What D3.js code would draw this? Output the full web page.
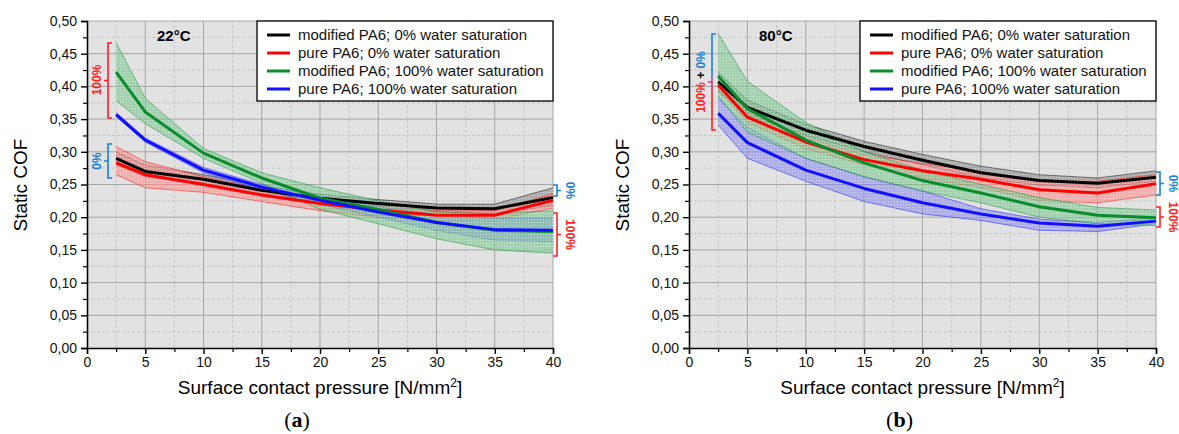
<!DOCTYPE html>
<html>
<head>
<meta charset="utf-8">
<script src="https://cdn.jsdelivr.net/npm/d3@7"></script>
<style>
body { margin: 0; background: #fff; }
text { font-family: "Liberation Sans", Arial, sans-serif; }
</style>
</head>
<body>
<div id="maincontent"></div>
<script>
// surface contact pressure [N/mm2]
var xVals = [2.5, 5, 10, 15, 20, 25, 30, 35, 40];
var seriesNames = ["modified PA6; 0% water saturation", "pure PA6; 0% water saturation",
                   "modified PA6; 100% water saturation", "pure PA6; 100% water saturation"];
var yTicks = [0, 0.05, 0.1, 0.15, 0.2, 0.25, 0.3, 0.35, 0.4, 0.45, 0.5];
var xTicks = [0, 5, 10, 15, 20, 25, 30, 35, 40];

// (a) 22°C
var a_modDry   = [0.290, 0.270, 0.258, 0.241, 0.229, 0.221, 0.214, 0.213, 0.230];
var a_modDryLo = [0.280, 0.262, 0.252, 0.235, 0.224, 0.215, 0.208, 0.205, 0.218];
var a_modDryHi = [0.300, 0.280, 0.265, 0.248, 0.235, 0.227, 0.220, 0.220, 0.245];
var a_purDry   = [0.283, 0.265, 0.250, 0.234, 0.221, 0.211, 0.203, 0.203, 0.226];
var a_purDryLo = [0.265, 0.245, 0.238, 0.224, 0.210, 0.200, 0.195, 0.196, 0.214];
var a_purDryHi = [0.308, 0.285, 0.262, 0.243, 0.230, 0.218, 0.210, 0.210, 0.236];
var a_modWet   = [0.422, 0.361, 0.298, 0.260, 0.229, 0.212, 0.192, 0.180, 0.178];
var a_modWetLo = [0.378, 0.343, 0.290, 0.252, 0.212, 0.190, 0.167, 0.150, 0.145];
var a_modWetHi = [0.467, 0.382, 0.305, 0.268, 0.245, 0.225, 0.208, 0.205, 0.210];
var a_purWet   = [0.357, 0.318, 0.272, 0.246, 0.226, 0.208, 0.192, 0.181, 0.180];
var a_purWetLo = [0.354, 0.315, 0.268, 0.242, 0.220, 0.200, 0.180, 0.165, 0.163];
var a_purWetHi = [0.360, 0.321, 0.276, 0.250, 0.232, 0.216, 0.204, 0.198, 0.198];

// (b) 80°C
var b_modDry   = [0.407, 0.368, 0.333, 0.308, 0.287, 0.268, 0.256, 0.252, 0.261];
var b_modDryLo = [0.392, 0.355, 0.325, 0.300, 0.280, 0.260, 0.249, 0.245, 0.255];
var b_modDryHi = [0.422, 0.379, 0.342, 0.316, 0.296, 0.278, 0.265, 0.260, 0.271];
var b_purDry   = [0.402, 0.353, 0.315, 0.288, 0.271, 0.258, 0.242, 0.237, 0.251];
var b_purDryLo = [0.395, 0.345, 0.305, 0.280, 0.260, 0.245, 0.225, 0.222, 0.234];
var b_purDryHi = [0.410, 0.360, 0.322, 0.296, 0.282, 0.270, 0.255, 0.255, 0.265];
var b_modWet   = [0.416, 0.366, 0.318, 0.283, 0.256, 0.237, 0.216, 0.203, 0.199];
var b_modWetLo = [0.385, 0.330, 0.290, 0.262, 0.240, 0.222, 0.200, 0.190, 0.187];
var b_modWetHi = [0.481, 0.408, 0.345, 0.300, 0.272, 0.250, 0.230, 0.215, 0.211];
var b_purWet   = [0.359, 0.314, 0.272, 0.244, 0.222, 0.205, 0.191, 0.186, 0.194];
var b_purWetLo = [0.341, 0.290, 0.255, 0.224, 0.205, 0.195, 0.180, 0.178, 0.190];
var b_purWetHi = [0.382, 0.338, 0.290, 0.262, 0.240, 0.213, 0.197, 0.192, 0.199];

var lineColors = ["#000000", "#ff0000", "#0a8c2c", "#1010ff"];
var bandColors = ["#8a8a8a", "#ff8c8c", "#7cc88f", "#8c8cf0"];
var annBlue = "#1a7fd4", annRed = "#ff2020";

var width = 1179, height = 434;
var svg = d3.select("#maincontent").append("svg")
    .attr("width", width).attr("height", height);

var defs = svg.append("defs");
var grad = defs.append("linearGradient").attr("id", "brk").attr("x1", 0).attr("y1", 0).attr("x2", 0).attr("y2", 1);
grad.append("stop").attr("offset", "0%").attr("stop-color", annBlue);
grad.append("stop").attr("offset", "40%").attr("stop-color", annBlue);
grad.append("stop").attr("offset", "50%").attr("stop-color", "#d0408c");
grad.append("stop").attr("offset", "62%").attr("stop-color", annRed);
grad.append("stop").attr("offset", "100%").attr("stop-color", annRed);

// dotted fill patterns for the deviation bands
bandColors.forEach(function (c, k) {
    var p = defs.append("pattern").attr("id", "band" + k).attr("patternUnits", "userSpaceOnUse")
        .attr("width", 3).attr("height", 3);
    p.append("rect").attr("width", 3).attr("height", 3).attr("fill", c).attr("fill-opacity", 0.6);
    p.append("rect").attr("width", 1).attr("height", 1).attr("fill", "#fff").attr("fill-opacity", 0.45);
});

var fmt = function (v) { return d3.format(".2f")(v).replace(".", ","); };

function bracket(g, x, y1, y2, dir, color) {
    // dir = -1 -> "[" with tip left, dir = 1 -> "]" with tip right
    var ym = (y1 + y2) / 2;
    g.append("path")
        .attr("d", "M" + (x - dir * 4) + "," + y1 + "H" + x + "V" + y2 + "H" + (x - dir * 4) +
                   "M" + x + "," + ym + "H" + (x + dir * 4))
        .attr("fill", "none").attr("stroke", color).attr("stroke-width", 1.6);
}

function drawPanel(cfg) {
    var x = d3.scaleLinear().domain([0, 40]).range([cfg.left, cfg.right]);
    var y = d3.scaleLinear().domain([0, 0.5]).range([348, 21]);
    var g = svg.append("g");

    g.append("rect")
        .attr("x", x(0)).attr("y", y(0.5))
        .attr("width", x(40) - x(0)).attr("height", y(0) - y(0.5))
        .attr("fill", "#e2e2e2");

    // minor grid
    var yMinor = d3.range(0.025, 0.5, 0.05);
    var xMinor = d3.range(2.5, 40, 5);
    g.selectAll(".gym").data(yMinor).enter().append("line")
        .attr("x1", x(0)).attr("x2", x(40)).attr("y1", d => y(d)).attr("y2", d => y(d))
        .attr("stroke", "#c2c2c2").attr("stroke-dasharray", "3,2").attr("stroke-width", 0.8);
    g.selectAll(".gxm").data(xMinor).enter().append("line")
        .attr("y1", y(0)).attr("y2", y(0.5)).attr("x1", d => x(d)).attr("x2", d => x(d))
        .attr("stroke", "#c2c2c2").attr("stroke-dasharray", "3,2").attr("stroke-width", 0.8);
    // major grid
    g.selectAll(".gy").data(yTicks.slice(1)).enter().append("line")
        .attr("x1", x(0)).attr("x2", x(40)).attr("y1", d => y(d)).attr("y2", d => y(d))
        .attr("stroke", "#a6a6a6").attr("stroke-width", 1);
    g.selectAll(".gx").data(xTicks.slice(1)).enter().append("line")
        .attr("y1", y(0)).attr("y2", y(0.5)).attr("x1", d => x(d)).attr("x2", d => x(d))
        .attr("stroke", "#a6a6a6").attr("stroke-width", 1);

    var area = d3.area().x((d, i) => x(xVals[i])).y0(d => y(d[0])).y1(d => y(d[1]));
    var line = d3.line().x((d, i) => x(xVals[i])).y(d => y(d));

    // bands
    [0, 1, 3, 2].forEach(function (k) {
        var s = cfg.series[k];
        var pts = s.lo.map((v, i) => [v, s.hi[i]]);
        g.append("path").datum(pts).attr("d", area)
            .attr("fill", "url(#band" + k + ")");
        g.append("path").datum(s.lo).attr("d", line)
            .attr("fill", "none").attr("stroke", lineColors[k]).attr("stroke-width", 0.6).attr("stroke-opacity", 0.8);
        g.append("path").datum(s.hi).attr("d", line)
            .attr("fill", "none").attr("stroke", lineColors[k]).attr("stroke-width", 0.6).attr("stroke-opacity", 0.8);
    });
    // mean lines
    [0, 1, 2, 3].forEach(function (k) {
        g.append("path").datum(cfg.series[k].mean).attr("d", line)
            .attr("fill", "none").attr("stroke", lineColors[k]).attr("stroke-width", 3)
            .attr("stroke-linejoin", "round");
    });

    // axes
    var yAxis = d3.axisLeft(y).tickValues(yTicks).tickFormat(fmt).tickSizeOuter(0).tickSize(6).tickPadding(4);
    var ya = g.append("g").attr("transform", "translate(" + x(0) + ",0)").call(yAxis);
    ya.selectAll("text").attr("font-size", 14).attr("fill", "#111");
    ya.selectAll("path, line").attr("stroke", "#000").attr("stroke-width", 1.4);
    g.append("g").attr("transform", "translate(" + x(0) + ",0)")
        .call(d3.axisLeft(y).tickValues(yMinor).tickFormat("").tickSize(4).tickSizeOuter(0))
        .selectAll("path, line").attr("stroke", "#000").attr("stroke-width", 1.2);

    var xAxis = d3.axisBottom(x).tickValues(xTicks).tickFormat(d3.format("d")).tickSizeOuter(0).tickSize(6).tickPadding(3);
    var xa = g.append("g").attr("transform", "translate(0," + y(0) + ")").call(xAxis);
    xa.selectAll("text").attr("font-size", 14).attr("fill", "#111");
    xa.selectAll("path, line").attr("stroke", "#000").attr("stroke-width", 1.4);
    g.append("g").attr("transform", "translate(0," + y(0) + ")")
        .call(d3.axisBottom(x).tickValues(xMinor).tickFormat("").tickSize(4).tickSizeOuter(0))
        .selectAll("path, line").attr("stroke", "#000").attr("stroke-width", 1.2);

    // axis titles
    g.append("text")
        .attr("transform", "translate(" + (cfg.left - 60) + "," + 185 + ")rotate(-90)")
        .attr("text-anchor", "middle").attr("font-size", 19).text("Static COF");
    var xt = g.append("text")
        .attr("x", (cfg.left + cfg.right) / 2).attr("y", 394)
        .attr("text-anchor", "middle").attr("font-size", 19);
    xt.append("tspan").text("Surface contact pressure [N/mm");
    xt.append("tspan").attr("font-size", 12).attr("dy", -7).text("2");
    xt.append("tspan").attr("dy", 7).text("]");

    var cap = g.append("text")
        .attr("x", (cfg.left + cfg.right) / 2 - 23).attr("y", 427)
        .attr("text-anchor", "middle").attr("font-size", 22)
        .style("font-family", "'Liberation Serif', 'DejaVu Serif', serif");
    cap.append("tspan").text("(");
    cap.append("tspan").attr("font-weight", "bold").text(cfg.label);
    cap.append("tspan").text(")");

    // temperature
    g.append("text").attr("x", x(0) + 70).attr("y", 41)
        .attr("font-size", 15).attr("font-weight", "bold").text(cfg.temp);

    // legend
    var lx = x(40) - 296, ly = y(0.5);
    g.append("rect").attr("x", lx).attr("y", ly).attr("width", 296).attr("height", 80)
        .attr("fill", "#fff").attr("stroke", "#000").attr("stroke-width", 1.3);
    seriesNames.forEach(function (n, i) {
        var yy = ly + 14 + i * 18;
        g.append("line").attr("x1", lx + 10).attr("x2", lx + 33).attr("y1", yy).attr("y2", yy)
            .attr("stroke", lineColors[i]).attr("stroke-width", 3);
        g.append("text").attr("x", lx + 41).attr("y", yy + 5).attr("font-size", 15).attr("fill", "#111").text(n);
    });

    cfg.notes(g, x, y);
}

drawPanel({
    left: 87, right: 553, label: "a", temp: "22°C",
    series: [
        {mean: a_modDry, lo: a_modDryLo, hi: a_modDryHi},
        {mean: a_purDry, lo: a_purDryLo, hi: a_purDryHi},
        {mean: a_modWet, lo: a_modWetLo, hi: a_modWetHi},
        {mean: a_purWet, lo: a_purWetLo, hi: a_purWetHi}
    ],
    notes: function (g, x, y) {
        bracket(g, 108, 43, 118, -1, annRed);
        g.append("text").attr("transform", "translate(101,80)rotate(-90)").attr("text-anchor", "middle")
            .attr("font-size", 12).attr("font-weight", "bold").attr("fill", annRed).text("100%");
        bracket(g, 108, 144, 178, -1, annBlue);
        g.append("text").attr("transform", "translate(101,161)rotate(-90)").attr("text-anchor", "middle")
            .attr("font-size", 12).attr("font-weight", "bold").attr("fill", annBlue).text("0%");
        bracket(g, 557, 185, 196, 1, annBlue);
        g.append("text").attr("transform", "translate(566,190.5)rotate(90)").attr("text-anchor", "middle")
            .attr("font-size", 12).attr("font-weight", "bold").attr("fill", annBlue).text("0%");
        bracket(g, 557, 213, 256, 1, annRed);
        g.append("text").attr("transform", "translate(566,234.5)rotate(90)").attr("text-anchor", "middle")
            .attr("font-size", 12).attr("font-weight", "bold").attr("fill", annRed).text("100%");
    }
});

drawPanel({
    left: 689, right: 1156, label: "b", temp: "80°C",
    series: [
        {mean: b_modDry, lo: b_modDryLo, hi: b_modDryHi},
        {mean: b_purDry, lo: b_purDryLo, hi: b_purDryHi},
        {mean: b_modWet, lo: b_modWetLo, hi: b_modWetHi},
        {mean: b_purWet, lo: b_purWetLo, hi: b_purWetHi}
    ],
    notes: function (g, x, y) {
        bracket(g, 712, 34, 130, -1, "url(#brk)");
        var t = g.append("text").attr("transform", "translate(705,82)rotate(-90)").attr("text-anchor", "middle")
            .attr("font-size", 12).attr("font-weight", "bold");
        t.append("tspan").attr("fill", annRed).text("100%");
        t.append("tspan").attr("fill", "#000").text(" + ");
        t.append("tspan").attr("fill", annBlue).text("0%");
        bracket(g, 1160, 172, 195, 1, annBlue);
        g.append("text").attr("transform", "translate(1169,183.5)rotate(90)").attr("text-anchor", "middle")
            .attr("font-size", 12).attr("font-weight", "bold").attr("fill", annBlue).text("0%");
        bracket(g, 1160, 207, 227, 1, annRed);
        g.append("text").attr("transform", "translate(1169,217)rotate(90)").attr("text-anchor", "middle")
            .attr("font-size", 12).attr("font-weight", "bold").attr("fill", annRed).text("100%");
    }
});
</script>
</body>
</html>
